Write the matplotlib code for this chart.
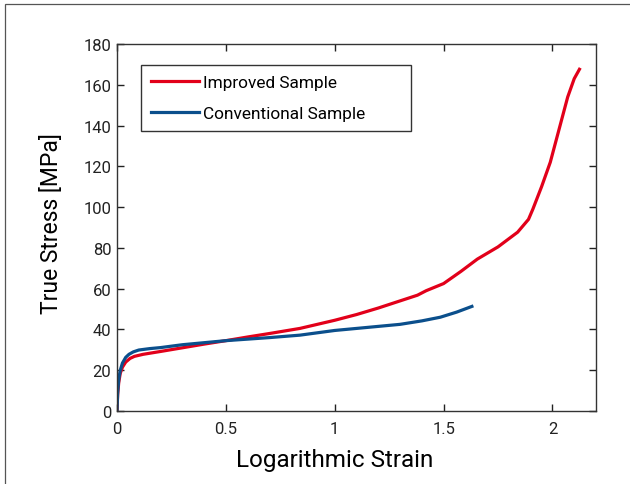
import matplotlib.pyplot as plt
from matplotlib.patches import Rectangle

plt.rcParams['font.family'] = ['Roboto', 'DejaVu Sans']

# Improved sample (red)
imp_strain = [0.0, 0.003, 0.008, 0.015, 0.025, 0.04, 0.06, 0.08, 0.12, 0.2, 0.3, 0.4, 0.5,
              0.6, 0.7, 0.84, 1.0, 1.1, 1.2, 1.3, 1.38, 1.42, 1.5, 1.58, 1.655, 1.75,
              1.84, 1.89, 1.91, 1.95, 1.99, 2.03, 2.07, 2.1, 2.124]
imp_stress = [0.0, 8, 14, 18.5, 21.5, 24, 25.8, 26.8, 27.8, 29.2, 31, 32.8, 34.5,
              36.3, 38, 40.5, 44.5, 47.3, 50.5, 54, 56.8, 59, 62.5, 68.5, 74.5, 80.5,
              87.7, 94, 99, 110, 122, 138, 154, 163, 167.6]

# Conventional sample (blue)
con_strain = [0.0, 0.003, 0.008, 0.015, 0.025, 0.04, 0.055, 0.075, 0.1, 0.15, 0.2, 0.3,
              0.5, 0.7, 0.84, 1.0, 1.15, 1.3, 1.4, 1.485, 1.56, 1.63]
con_stress = [0.0, 9, 15.5, 20, 23.5, 26.3, 27.8, 29.0, 29.9, 30.6, 31.1, 32.5,
              34.5, 36, 37.2, 39.5, 41, 42.5, 44.2, 46, 48.5, 51.3]

fig = plt.figure(figsize=(6.3, 4.85), dpi=100)
fig.patches.append(Rectangle((5 / 630, -0.05), 1.1, 1 - 5 / 485 + 0.05,
                             transform=fig.transFigure, fill=False,
                             edgecolor='#555555', lw=0.9))
ax = fig.add_axes([117 / 630, 1 - 412 / 485, 479 / 630, 367 / 485])

ax.plot(imp_strain, imp_stress, color='#E2001A', lw=2.3, label='Improved Sample')
ax.plot(con_strain, con_stress, color='#0B4F8C', lw=2.3, label='Conventional Sample')

ax.set_xlim(0, 2.2)
ax.set_ylim(0, 180)
ax.set_xticks([0, 0.5, 1, 1.5, 2])
ax.set_xticklabels(['0', '0.5', '1', '1.5', '2'])
ax.set_yticks(range(0, 181, 20))
ax.tick_params(direction='in', top=True, right=True, labelsize=12, length=5,
               width=1, colors='#222222')
ax.tick_params(axis='x', pad=7)
ax.tick_params(axis='y', pad=4)
for s in ax.spines.values():
    s.set_color('#333333')
    s.set_linewidth(1)

ax.set_xlabel('Logarithmic Strain', fontsize=17.5)
ax.set_ylabel('True Stress [MPa]', fontsize=16.5)
ax.xaxis.set_label_coords(0.454, -0.102)
ax.yaxis.set_label_coords(-0.112, 0.514)

leg = ax.legend(loc='upper left', bbox_to_anchor=(0.05, 0.773, 0.564, 0.17),
                mode='expand', fontsize=12.4, handlelength=2.75, handletextpad=0.25,
                borderpad=0.6, labelspacing=0.9, borderaxespad=0,
                fancybox=False, framealpha=1)
leg.get_frame().set_edgecolor('#333333')
leg.get_frame().set_linewidth(1)

fig.savefig('out.png', dpi=100)
